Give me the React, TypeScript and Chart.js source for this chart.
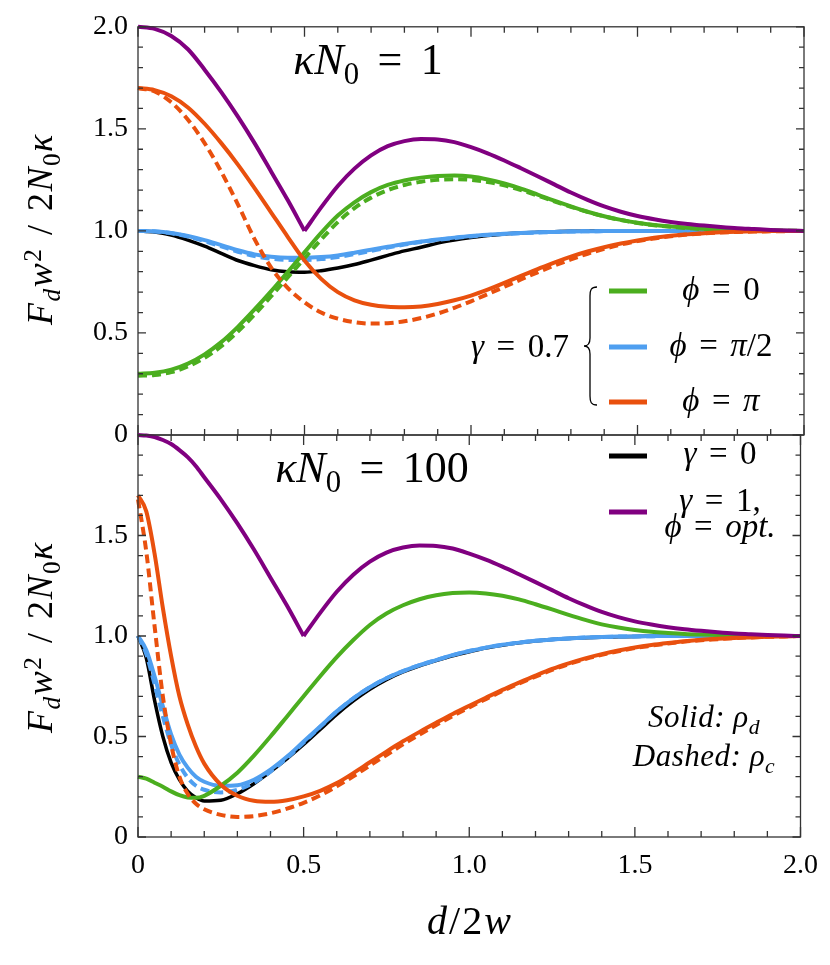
import React, { useEffect, useRef } from 'react';
import { Chart, registerables } from 'chart.js';
Chart.register(...registerables);

// ---------- data ----------
const X_TOP = [0,0.05,0.1,0.15,0.2,0.25,0.3,0.35,0.4,0.45,0.5,0.55,0.6,0.65,0.7,0.75,0.8,0.85,0.9,0.95,1,1.05,1.1,1.15,1.2,1.25,1.3,1.35,1.4,1.45,1.5,1.55,1.6,1.65,1.7,1.75,1.8,1.85,1.9,1.95,2];
const X_BOT = [0,0.025,0.05,0.075,0.1,0.125,0.15,0.175,0.2,0.25,0.3,0.35,0.4,0.45,0.5,0.55,0.6,0.65,0.7,0.75,0.8,0.85,0.9,0.95,1,1.05,1.1,1.15,1.2,1.25,1.3,1.35,1.4,1.45,1.5,1.55,1.6,1.65,1.7,1.75,1.8,1.85,1.9,1.95,2];

const X_TICKS = [0, 0.5, 1.0, 1.5, 2.0];
const Y_TICKS_TOP = [0, 0.5, 1.0, 1.5, 2.0];
const Y_TICKS_BOT = [0, 0.5, 1.0, 1.5];

// kappa N0 = 1
const TOP_PURPLE = [2.0,1.99,1.955,1.89,1.79,1.68,1.56,1.43,1.29,1.15,1.0, 1.115,1.22,1.305,1.37,1.415,1.44,1.45,1.448,1.435, 1.41,1.38,1.345,1.307,1.268,1.228,1.188,1.152,1.12,1.094, 1.073,1.057,1.044,1.034,1.026,1.019,1.013,1.009,1.005,1.002, 1.0];
const TOP_ORANGE = [1.70,1.69,1.66,1.605,1.525,1.43,1.325,1.21,1.09,0.97,0.855, 0.765,0.70,0.66,0.638,0.628,0.626,0.63,0.642,0.66, 0.683,0.712,0.745,0.78,0.813,0.845,0.874,0.899,0.92,0.938, 0.953,0.966,0.976,0.983,0.989,0.993,0.996,0.998,0.999,1.0, 1.0];
const TOP_ORANGE_D = [1.70,1.683,1.63,1.545,1.43,1.29,1.13,0.96,0.82,0.72,0.65, 0.60,0.57,0.553,0.546,0.548,0.557,0.573,0.595,0.623, 0.655,0.69,0.726,0.762,0.797,0.83,0.86,0.888,0.912,0.933, 0.95,0.963,0.974,0.982,0.988,0.992,0.995,0.997,0.998,0.999, 1.0];
const TOP_GREEN = [0.30,0.305,0.32,0.35,0.395,0.455,0.53,0.615,0.705,0.80,0.895, 0.99,1.075,1.14,1.19,1.225,1.247,1.261,1.269,1.271, 1.266,1.252,1.232,1.207,1.178,1.148,1.12,1.094,1.072,1.054, 1.04,1.029,1.021,1.015,1.01,1.007,1.005,1.003,1.002,1.001, 1.0];
const TOP_GREEN_D = [0.29,0.294,0.308,0.336,0.378,0.435,0.507,0.59,0.68,0.773,0.866, 0.958,1.043,1.112,1.163,1.2,1.225,1.241,1.25,1.253, 1.25,1.24,1.223,1.2,1.173,1.145,1.118,1.093,1.071,1.053, 1.039,1.028,1.02,1.014,1.01,1.007,1.005,1.003,1.002,1.001, 1.0];
const TOP_BLUE = [1.0,0.998,0.99,0.975,0.955,0.93,0.905,0.885,0.873,0.868,0.868, 0.872,0.88,0.893,0.908,0.922,0.936,0.948,0.958,0.967, 0.975,0.981,0.986,0.99,0.993,0.995,0.997,0.998,0.999,1.0, 1.0,1.0,1.0,1.0,1.0,1.0,1.0,1.0,1.0,1.0, 1.0];
const TOP_BLUE_D = [1.0,0.997,0.988,0.972,0.95,0.924,0.898,0.877,0.864,0.858,0.858, 0.862,0.872,0.886,0.902,0.918,0.933,0.946,0.956,0.965, 0.973,0.98,0.985,0.989,0.992,0.995,0.997,0.998,0.999,1.0, 1.0,1.0,1.0,1.0,1.0,1.0,1.0,1.0,1.0,1.0, 1.0];
const TOP_BLACK = [1.0,0.995,0.98,0.955,0.925,0.89,0.855,0.83,0.81,0.8,0.798, 0.805,0.818,0.835,0.857,0.88,0.902,0.92,0.94,0.955, 0.967,0.977,0.985,0.99,0.994,0.996,0.998,0.999,1.0,1.0, 1.0,1.0,1.0,1.0,1.0,1.0,1.0,1.0,1.0,1.0, 1.0];

// kappa N0 = 100
const BOT_PURPLE = [2.0,1.997,1.99,1.975,1.955,1.925,1.89,1.845,1.79, 1.68,1.56,1.43,1.29,1.15,1.0, 1.115,1.22,1.305,1.37,1.415,1.44,1.45,1.448,1.435, 1.41,1.38,1.345,1.307,1.268,1.228,1.188,1.152,1.12,1.094, 1.073,1.057,1.044,1.034,1.026,1.019,1.013,1.009,1.005,1.002, 1.0];
const BOT_ORANGE = [1.70,1.62,1.41,1.14,0.90,0.70,0.56,0.45,0.365, 0.26,0.205,0.18,0.175,0.183,0.202, 0.23,0.268,0.318,0.372,0.425,0.476,0.523,0.568,0.612, 0.653,0.693,0.732,0.768,0.803,0.836,0.864,0.889,0.91,0.928, 0.943,0.955,0.965,0.974,0.981,0.986,0.99,0.993,0.996,0.998, 1.0];
const BOT_ORANGE_D = [1.68,1.42,1.05,0.70,0.46,0.30,0.215,0.165,0.138, 0.11,0.10,0.104,0.118,0.141,0.17, 0.207,0.252,0.302,0.356,0.408,0.461,0.51,0.557,0.602, 0.645,0.686,0.726,0.763,0.798,0.831,0.86,0.885,0.906,0.924, 0.94,0.952,0.963,0.972,0.979,0.984,0.989,0.993,0.996,0.998, 1.0];
const BOT_GREEN = [0.30,0.29,0.27,0.25,0.227,0.208,0.197,0.195,0.205, 0.255,0.32,0.405,0.50,0.60,0.70, 0.80,0.895,0.98,1.055,1.112,1.153,1.183,1.203,1.214, 1.217,1.212,1.2,1.182,1.158,1.132,1.105,1.08,1.058,1.042, 1.03,1.021,1.015,1.01,1.007,1.005,1.003,1.002,1.001,1.0, 1.0];
const BOT_BLUE = [1.0,0.93,0.80,0.65,0.51,0.41,0.345,0.30,0.275, 0.255,0.258,0.285,0.335,0.40,0.475, 0.55,0.625,0.69,0.745,0.79,0.825,0.855,0.88,0.905, 0.925,0.942,0.956,0.967,0.976,0.983,0.988,0.992,0.995,0.997, 0.998,0.999,1.0,1.0,1.0,1.0,1.0,1.0,1.0,1.0, 1.0];
const BOT_BLUE_D = [1.0,0.91,0.76,0.60,0.46,0.36,0.295,0.255,0.235, 0.222,0.235,0.27,0.325,0.393,0.47, 0.548,0.624,0.69,0.745,0.79,0.825,0.855,0.88,0.905, 0.925,0.942,0.956,0.967,0.976,0.983,0.988,0.992,0.995,0.997, 0.998,0.999,1.0,1.0,1.0,1.0,1.0,1.0,1.0,1.0, 1.0];
const BOT_BLACK = [1.0,0.89,0.68,0.50,0.37,0.285,0.228,0.195,0.179, 0.183,0.215,0.265,0.325,0.39,0.46, 0.535,0.61,0.677,0.735,0.783,0.821,0.852,0.878,0.902, 0.922,0.94,0.954,0.966,0.975,0.982,0.987,0.991,0.994,0.996, 0.998,0.999,1.0,1.0,1.0,1.0,1.0,1.0,1.0,1.0, 1.0];

// ---------- style ----------
const GREEN = '#4bae1f';
const BLUE = '#4f9ff0';
const ORANGE = '#e9500e';
const PURPLE = '#800080';
const BLACK = '#000000';
const FONT = '"Liberation Serif", "Liberation Sans", serif';

const pts = (xs: number[], ys: number[]) => xs.map((x, i) => ({ x, y: ys[i] }));

const line = (data: any[], color: string, dashed = false, width = 4) => ({
  data,
  borderColor: color,
  borderWidth: width,
  borderDash: dashed ? [9, 5] : [],
  pointRadius: 0,
  cubicInterpolationMode: 'monotone',
  fill: false,
  clip: 3,
});

const fmt = (v: number) => (v === 0 ? '0' : Number(v).toFixed(1));

const frameTicks = {
  id: 'frameTicks',
  afterDatasetsDraw(chart: any) {
    const { ctx, chartArea: a, scales } = chart;
    const xs = scales.x;
    const ys = scales.y;
    ctx.save();
    ctx.strokeStyle = '#333';
    ctx.lineWidth = 1.3;
    ctx.strokeRect(a.left, a.top, a.right - a.left, a.bottom - a.top);
    ctx.beginPath();
    for (let i = 0; i <= 20; i++) {
      const px = xs.getPixelForValue(i / 10);
      const L = i % 5 === 0 ? 10 : 6;
      ctx.moveTo(px, a.top); ctx.lineTo(px, a.top + L);
      ctx.moveTo(px, a.bottom); ctx.lineTo(px, a.bottom - L);
    }
    for (let i = 0; i <= 20; i++) {
      const py = ys.getPixelForValue(i / 10);
      const L = i % 5 === 0 ? 8 : 5;
      ctx.moveTo(a.left, py); ctx.lineTo(a.left + L, py);
      ctx.moveTo(a.right, py); ctx.lineTo(a.right - L, py);
    }
    ctx.stroke();
    ctx.restore();
  },
};

function makeConfig(isTop: boolean): any {
  const X = isTop ? X_TOP : X_BOT;
  const P = isTop ? TOP_PURPLE : BOT_PURPLE;
  const k = X.indexOf(0.5);
  const datasets = isTop
    ? [
        line(pts(X.slice(0, k + 1), P.slice(0, k + 1)), PURPLE),
        line(pts(X.slice(k), P.slice(k)), PURPLE),
        line(pts(X, TOP_ORANGE), ORANGE),
        line(pts(X, TOP_ORANGE_D), ORANGE, true),
        line(pts(X, TOP_GREEN), GREEN),
        line(pts(X, TOP_GREEN_D), GREEN, true),
        line(pts(X, TOP_BLUE), BLUE),
        line(pts(X, TOP_BLUE_D), BLUE, true),
        line(pts(X, TOP_BLACK), BLACK, false, 3.5),
      ]
    : [
        line(pts(X.slice(0, k + 1), P.slice(0, k + 1)), PURPLE),
        line(pts(X.slice(k), P.slice(k)), PURPLE),
        line(pts(X, BOT_ORANGE), ORANGE),
        line(pts(X, BOT_ORANGE_D), ORANGE, true),
        line(pts(X, BOT_GREEN), GREEN),
        line(pts(X, BOT_BLUE), BLUE),
        line(pts(X, BOT_BLUE_D), BLUE, true),
        line(pts(X, BOT_BLACK), BLACK, false, 3.5),
      ];
  const yTicks = isTop ? Y_TICKS_TOP : Y_TICKS_BOT;
  return {
    type: 'line',
    data: { datasets },
    options: {
      animation: false,
      responsive: false,
      events: [],
      layout: {
        padding: isTop
          ? { left: 0, right: 26, top: 23, bottom: 530 }
          : { left: 0, right: 26, top: 435, bottom: 78 },
      },
      plugins: { legend: { display: false }, tooltip: { enabled: false } },
      scales: {
        x: {
          type: 'linear',
          min: 0,
          max: 2,
          display: !isTop,
          grid: { display: false, drawTicks: false },
          border: { display: false },
          afterBuildTicks: (s: any) => { s.ticks = X_TICKS.map((v) => ({ value: v })); },
          afterFit: (s: any) => { s.height = isTop ? 0 : 50; },
          ticks: {
            padding: 12,
            autoSkip: false,
            maxRotation: 0,
            color: '#000',
            font: { family: FONT, size: 28 },
            callback: (v: number) => fmt(v),
          },
        },
        y: {
          type: 'linear',
          min: 0,
          max: 2,
          grid: { display: false, drawTicks: false },
          border: { display: false },
          afterBuildTicks: (s: any) => { s.ticks = yTicks.map((v) => ({ value: v })); },
          afterFit: (s: any) => { s.width = 138; },
          ticks: {
            padding: 10,
            color: '#000',
            font: { family: FONT, size: 28 },
            callback: (v: number) => fmt(v),
          },
        },
      },
    },
    plugins: [frameTicks],
  };
}

// ---------- rich text helpers ----------
const It = ({ children }: any) => <span style={{ fontStyle: 'italic' }}>{children}</span>;
const Sub = ({ children, italic }: any) => (
  <span style={{ fontSize: '0.7em', position: 'relative', top: '0.32em', fontStyle: italic ? 'italic' : 'normal' }}>{children}</span>
);
const Sup = ({ children }: any) => (
  <span style={{ fontSize: '0.7em', position: 'relative', top: '-0.45em' }}>{children}</span>
);
const Eq = ({ m = 0.38 }: any) => <span style={{ margin: `0 ${m}em` }}>=</span>;

const Label = ({ x, y, size, children, rotate, ls = 0 }: any) => (
  <div
    style={{
      position: 'absolute',
      left: x,
      top: y,
      transform: `translate(-50%, -50%)${rotate ? ' rotate(-90deg)' : ''}`,
      fontFamily: FONT,
      fontSize: size,
      lineHeight: 1,
      letterSpacing: ls,
      whiteSpace: 'nowrap',
      color: '#000',
    }}
  >
    {children}
  </div>
);

const YTitle = () => (
  <>
    <It>F</It><Sub italic>d</Sub><It>w</It><Sup>2</Sup>
    <span style={{ margin: '0 0.35em' }}>/</span>2<It>N</It><Sub>0</Sub><It>κ</It>
  </>
);

export default function App() {
  const topRef = useRef<HTMLCanvasElement>(null);
  const botRef = useRef<HTMLCanvasElement>(null);

  useEffect(() => {
    const c1 = new Chart(topRef.current as HTMLCanvasElement, makeConfig(true));
    const c2 = new Chart(botRef.current as HTMLCanvasElement, makeConfig(false));
    return () => {
      c1.destroy();
      c2.destroy();
    };
  }, []);

  const cs: React.CSSProperties = { position: 'absolute', left: 0, top: 0, width: 830, height: 965 };

  return (
    <div style={{ position: 'absolute', left: 0, top: 0, width: 830, height: 965, background: '#fff', overflow: 'hidden' }}>
      <canvas ref={topRef} width={830} height={965} style={cs} />
      <canvas ref={botRef} width={830} height={965} style={cs} />
      <svg width={830} height={965} style={{ position: 'absolute', left: 0, top: 0 }}>
        <path
          d="M597,287 C591,287 590,290 590,296 L590,338 C590,344 588,346 584,346 C588,346 590,348 590,354 L590,396 C590,402 591,405 597,405"
          fill="none"
          stroke="#000"
          strokeWidth={1.3}
        />
        <line x1={609} x2={647} y1={291} y2={291} stroke={GREEN} strokeWidth={5} />
        <line x1={609} x2={647} y1={347} y2={347} stroke={BLUE} strokeWidth={5} />
        <line x1={609} x2={647} y1={402} y2={402} stroke={ORANGE} strokeWidth={5} />
        <line x1={609} x2={647} y1={456} y2={456} stroke={BLACK} strokeWidth={5} />
        <line x1={609} x2={647} y1={512} y2={512} stroke={PURPLE} strokeWidth={5} />
      </svg>

      <Label x={40} y={229} size={36} rotate ls={1.5}><YTitle /></Label>
      <Label x={40} y={637} size={36} rotate ls={1.5}><YTitle /></Label>
      <Label x={470} y={921} size={40} ls={2}><It>d</It>/2<It>w</It></Label>

      <Label x={368} y={60} size={44}><It>κN</It><Sub>0</Sub><Eq m={0.42} />1</Label>
      <Label x={372} y={468} size={44}><It>κN</It><Sub>0</Sub><Eq m={0.42} />100</Label>

      <Label x={520} y={346} size={33}><It>γ</It><Eq />0.7</Label>
      <Label x={721} y={289} size={33}><It>ϕ</It><Eq />0</Label>
      <Label x={721} y={345} size={33}><It>ϕ</It><Eq /><It>π</It>/2</Label>
      <Label x={721} y={400} size={33}><It>ϕ</It><Eq /><It>π</It></Label>

      <Label x={720} y={453} size={33}><It>γ</It><Eq />0</Label>
      <Label x={720} y={500} size={33}><It>γ</It><Eq />1,</Label>
      <Label x={720} y={526} size={33}><It>ϕ</It><Eq /><It>opt.</It></Label>

      <Label x={704} y={716} size={31} ls={0.5}><It>Solid: ρ</It><Sub italic>d</Sub></Label>
      <Label x={704} y={755} size={31} ls={0.5}><It>Dashed: ρ</It><Sub italic>c</Sub></Label>
    </div>
  );
}
